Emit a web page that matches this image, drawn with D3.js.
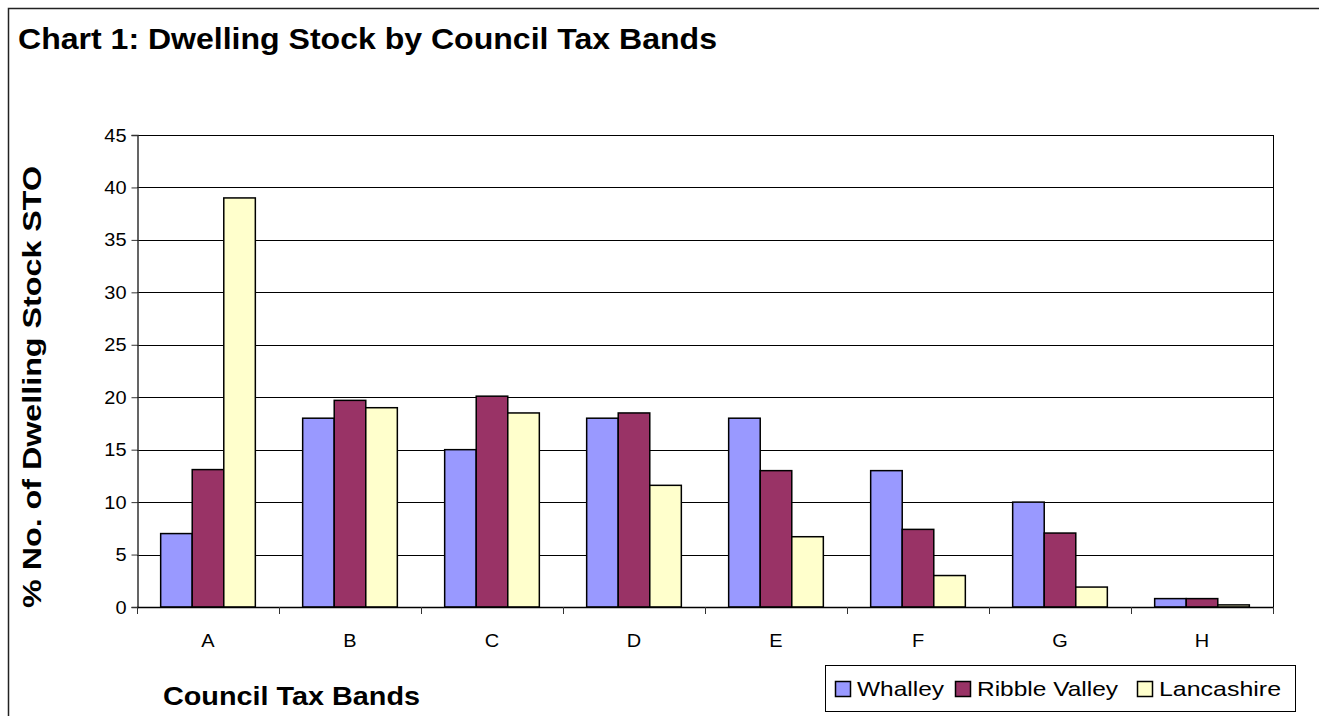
<!DOCTYPE html>
<html>
<head>
<meta charset="utf-8">
<script src="https://cdn.jsdelivr.net/npm/d3@7"></script>
<style>
  html, body { margin: 0; padding: 0; background: #fff; }
  svg { display: block; font-family: "Liberation Sans", Arial, sans-serif; }
</style>
</head>
<body>
<svg id="chart" width="1319" height="716"></svg>
<script>
const categories = ["A", "B", "C", "D", "E", "F", "G", "H"];
const seriesNames = ["Whalley", "Ribble Valley", "Lancashire"];
const whalley = [7, 18, 15, 18, 18, 13, 10, 0.8];
const ribbleValley = [13.1, 19.7, 20.1, 18.5, 13, 7.4, 7.05, 0.8];
const lancashire = [39, 19, 18.5, 11.6, 6.7, 3, 1.9, 0.2];
const yTicks = [0, 5, 10, 15, 20, 25, 30, 35, 40, 45];
const colors = ["#9999FF", "#993366", "#FFFFCC"];

const seriesValues = [whalley, ribbleValley, lancashire];

const svg = d3.select("#chart");

function fitWidth(sel, w) {
  sel.attr("textLength", w).attr("lengthAdjust", "spacingAndGlyphs");
}
function stretch(sel, k) {
  sel.each(function () {
    const len = this.getComputedTextLength();
    d3.select(this).attr("textLength", len * k).attr("lengthAdjust", "spacingAndGlyphs");
  });
}

// outer frame
svg.append("rect")
  .attr("x", 8.5).attr("y", 8.5)
  .attr("width", 1330).attr("height", 730)
  .attr("fill", "none").attr("stroke", "#222").attr("stroke-width", 1.5);

// title
svg.append("text")
  .attr("x", 18).attr("y", 49)
  .attr("font-size", 30).attr("font-weight", "bold")
  .text("Chart 1: Dwelling Stock by Council Tax Bands")
  .call(fitWidth, 699);

const plot = { left: 137, right: 1273, top: 135, bottom: 607 };

const x0 = d3.scaleBand()
  .domain(categories)
  .range([plot.left, plot.right])
  .paddingInner(1 / 3)
  .paddingOuter(1 / 6);

const x1 = d3.scaleBand()
  .domain(seriesNames)
  .range([0, x0.bandwidth()])
  .padding(0);

const y = d3.scaleLinear().domain([0, 45]).range([plot.bottom, plot.top]);

// gridlines
svg.append("g")
  .selectAll("line")
  .data(yTicks.filter(d => d > 0))
  .join("line")
  .attr("x1", plot.left).attr("x2", plot.right)
  .attr("y1", d => Math.round(y(d)) + 0.5).attr("y2", d => Math.round(y(d)) + 0.5)
  .attr("stroke", "#000").attr("stroke-width", 1);

// plot right border
svg.append("line")
  .attr("x1", plot.right + 0.5).attr("x2", plot.right + 0.5)
  .attr("y1", plot.top).attr("y2", plot.bottom)
  .attr("stroke", "#000");

// bars
const groups = svg.append("g")
  .selectAll("g")
  .data(categories)
  .join("g")
  .attr("transform", d => `translate(${x0(d)},0)`);

groups.selectAll("rect")
  .data((c, i) => seriesNames.map((s, j) => ({ s, j, v: seriesValues[j][i] })))
  .join("rect")
  .attr("x", d => x1(d.s))
  .attr("width", x1.bandwidth())
  .attr("y", d => y(d.v))
  .attr("height", d => y(0) - y(d.v))
  .attr("fill", d => colors[d.j])
  .attr("stroke", "#000").attr("stroke-width", 1.5);

// y axis
const yAxis = d3.axisLeft(y).tickValues(yTicks).tickSize(6).tickPadding(5).tickFormat(d3.format("d"));
const yg = svg.append("g")
  .attr("transform", `translate(${plot.left + 0.5},0)`)
  .call(yAxis);
yg.select(".domain").attr("stroke", "#333").attr("stroke-width", 1.5);
yg.selectAll(".tick line").attr("stroke", "#333");
yg.selectAll("text")
  .attr("font-size", 19).attr("fill", "#000")
  .attr("font-family", "Liberation Sans, Arial, sans-serif")
  .call(stretch, 1.05);

// x axis
const xEdges = d3.range(categories.length + 1).map(i => plot.left + i * x0.step());
const xg = svg.append("g");
xg.append("line")
  .attr("x1", plot.left).attr("x2", plot.right + 1)
  .attr("y1", plot.bottom + 0.5).attr("y2", plot.bottom + 0.5)
  .attr("stroke", "#000").attr("stroke-width", 1.5);
xg.selectAll("line.tk")
  .data(xEdges)
  .join("line").attr("class", "tk")
  .attr("x1", d => Math.round(d) + 0.5).attr("x2", d => Math.round(d) + 0.5)
  .attr("y1", plot.bottom).attr("y2", plot.bottom + 7)
  .attr("stroke", "#333");
xg.selectAll("text")
  .data(categories)
  .join("text")
  .attr("x", d => x0(d) + x0.bandwidth() / 2)
  .attr("y", 647)
  .attr("text-anchor", "middle")
  .attr("font-size", 19)
  .text(d => d)
  .call(stretch, 1.05);

// axis titles
svg.append("text")
  .attr("transform", "translate(41,387) rotate(-90)")
  .attr("text-anchor", "middle")
  .attr("font-size", 25).attr("font-weight", "bold")
  .text("% No. of Dwelling Stock  STO")
  .call(fitWidth, 442);

svg.append("text")
  .attr("x", 163).attr("y", 705)
  .attr("font-size", 25).attr("font-weight", "bold")
  .text("Council Tax Bands")
  .call(fitWidth, 257);

// legend
const lg = svg.append("g");
lg.append("rect")
  .attr("x", 825.5).attr("y", 665.5).attr("width", 470).attr("height", 46)
  .attr("fill", "#fff").attr("stroke", "#000").attr("stroke-width", 1);
const legendItems = [
  { x: 835, tx: 857, tw: 87 },
  { x: 955, tx: 977, tw: 141 },
  { x: 1137, tx: 1159, tw: 122 }
];
seriesNames.forEach((name, i) => {
  lg.append("rect")
    .attr("x", legendItems[i].x + 0.5).attr("y", 681.5)
    .attr("width", 15).attr("height", 15)
    .attr("fill", colors[i]).attr("stroke", "#000").attr("stroke-width", 1.5);
  lg.append("text")
    .attr("x", legendItems[i].tx).attr("y", 696)
    .attr("font-size", 21)
    .text(name)
    .call(fitWidth, legendItems[i].tw);
});
</script>
</body>
</html>
